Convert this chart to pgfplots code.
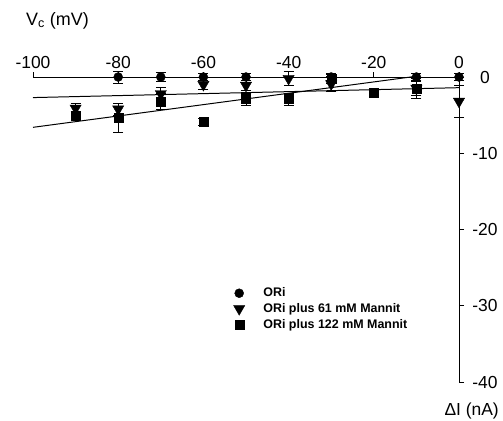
\documentclass[border=0pt]{standalone}
\usepackage{fontspec}
\setmainfont{Liberation Sans}
\usepackage{pgfplots}
\pgfplotsset{compat=1.18}
\begin{document}
\begin{tikzpicture}
\begin{axis}[
  at={(0,0)}, anchor=south west,
  scale only axis, width=426bp, height=305bp,
  xmin=-100, xmax=0, ymin=-40, ymax=0,
  axis x line=top, axis y line=right,
  axis line style={-, line width=1pt},
  tick align=outside, major tick length=5bp,
  tick style={line width=0.8pt, black},
  xtick={-100,-80,-60,-40,-20,0},
  ytick={0,-10,-20,-30,-40},
  /pgf/number format/assume math mode=true,
  ticklabel style={font=\fontsize{17.5}{20}\selectfont},
  yticklabel style={anchor=center, xshift=21bp},
  clip=false,
  legend style={draw=none, fill=none, font=\bfseries\fontsize{12.5}{15}\selectfont,
    at={(0.462,0.322)}, anchor=north west, row sep=1bp},
  legend cell align=left,
  legend image code/.code={\draw[#1] plot coordinates {(0bp,0bp)}; \path (-6bp,0bp) (22bp,0bp);},
  error bars/error bar style={line width=0.8pt},
  error bars/error mark options={rotate=90, mark size=5bp, line width=0.8pt},
]
% fit lines
\addplot[black, line width=1pt, forget plot] coordinates {(-100,0) (0,0)};
\addplot[black, line width=1pt, forget plot] coordinates {(-100,-2.7) (0,-1.4)};
\addplot[black, line width=1pt, forget plot] coordinates {(-100,-6.6) (-10,0.1)};
% ORi
\addplot[only marks, mark=*, mark size=4.5bp, black,
  error bars/.cd, y dir=both, y explicit]
  coordinates {
  (-80,0) +- (0,0.8)
  (-70,0) +- (0,0.6)
  (-60,0) +- (0,0.5)
  (-50,0) +- (0,0.5)
  (-30,0) +- (0,0.5)
  (-10,0) +- (0,0.5)
  (0,0) +- (0,0.5)
  };
\addlegendentry{ORi}
% 61 mM
\addplot[only marks, mark=triangle*, mark size=6.5bp, mark options={rotate=180}, black,
  error bars/.cd, y dir=both, y explicit]
  coordinates {
  (-90,-4.1) +- (0,0.6)
  (-80,-4.2) +- (0,0.8)
  (-70,-2.2) +- (0,0.8)
  (-60,-1.0) +- (0,0.6)
  (-50,-1.1) +- (0,0.6)
  (-40,-0.2) +- (0,0.9)
  (-30,-0.9) +- (0,1.0)
  (-10,-1.5) +- (0,1.3)
  (0,-3.2) +- (0,2.1)
  };
\addlegendentry{ORi plus 61 mM Mannit}
% 122 mM
\addplot[only marks, mark=square*, mark size=4.5bp, black,
  error bars/.cd, y dir=both, y explicit]
  coordinates {
  (-90,-5.1) +- (0,0.6)
  (-80,-5.3) +- (0,1.9)
  (-70,-3.2) +- (0,1.0)
  (-60,-5.9) +- (0,0.5)
  (-50,-2.9) +- (0,0.8)
  (-40,-2.9) +- (0,0.8)
  (-30,-0.2) +- (0,0.6)
  (-20,-2.1) +- (0,0.6)
  (-10,-1.5) +- (0,0.9)
  };
\addlegendentry{ORi plus 122 mM Mannit}
\node[font=\fontsize{18}{20}\selectfont, anchor=base west, inner sep=0pt] at (rel axis cs:0,1) [xshift=-7bp, yshift=52bp] {V\textsubscript{c} (mV)};
\node[font=\fontsize{17.5}{20}\selectfont, anchor=base east, inner sep=0pt] at (rel axis cs:1,0) [xshift=40bp, yshift=-33bp] {ΔI (nA)};
\end{axis}
\pgfresetboundingbox
\path[use as bounding box] (-33bp,-39bp) rectangle (470bp,382bp);
\end{tikzpicture}
\end{document}
